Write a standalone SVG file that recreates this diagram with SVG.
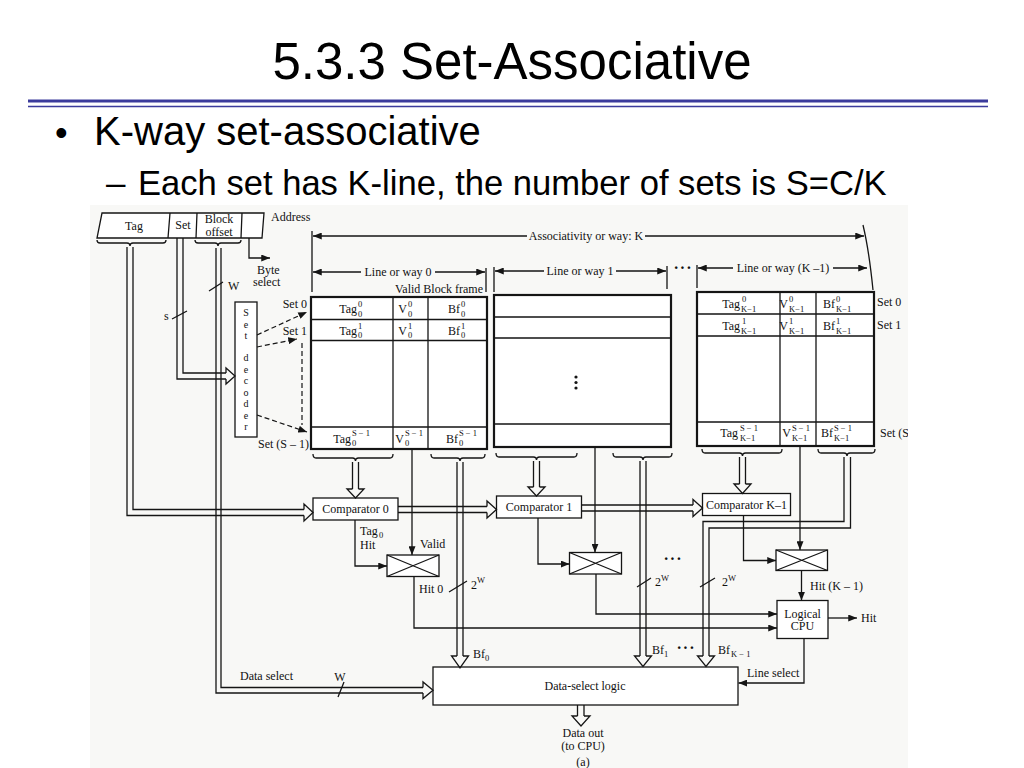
<svg xmlns="http://www.w3.org/2000/svg" width="1024" height="768" viewBox="0 0 1024 768">
<defs>
<style>
.title{font-family:"Liberation Sans",Arial,sans-serif;fill:#000}
.t{font-family:"Liberation Serif","Times New Roman",serif;font-size:12px;fill:#111}
.tm{text-anchor:middle}
.te{text-anchor:end}
.s{font-size:8.5px}
.dec{font-size:10px}
.dots{font-size:16px;font-weight:bold;letter-spacing:1px}
.ln{stroke:#151515;stroke-width:1.3;fill:none}
.bx{stroke:#151515;stroke-width:1.3;fill:#fff}
.dash{stroke:#151515;stroke-width:1.2;fill:none;stroke-dasharray:5 3}
</style>
<marker id="ah" viewBox="0 0 10 8" refX="10" refY="4" markerWidth="9" markerHeight="7" markerUnits="userSpaceOnUse" orient="auto-start-reverse"><path d="M0,0 L10,4 L0,8 z" fill="#151515"/></marker>
<clipPath id="img"><rect x="90" y="205" width="818" height="563"/></clipPath>
</defs>
<rect width="1024" height="768" fill="#fff"/>
<text class="title" x="512" y="79" font-size="51" text-anchor="middle">5.3.3 Set-Associative</text>
<line x1="28" y1="101" x2="988" y2="101" stroke="#3b3b9c" stroke-width="3"/>
<line x1="28" y1="106.5" x2="988" y2="106.5" stroke="#3b3b9c" stroke-width="1.5"/>
<text class="title" x="55" y="145" font-size="36">•</text>
<text class="title" x="94" y="145" font-size="40">K-way set-associative</text>
<text class="title" x="106" y="195" font-size="35">–</text>
<text class="title" x="138" y="195" font-size="34.6">Each set has K-line, the number of sets is S=C/K</text>

<g clip-path="url(#img)">
<rect x="90" y="205" width="818" height="563" fill="#f8f8f6"/>

<g id="address">
<path class="bx" d="M102,213 L264,213 L262,238 L97,238 Z"/>
<path class="ln" d="M170,213 L168,238 M197,213 L196,238 M242,213 L241,238"/>
<text class="t tm" x="134" y="230">Tag</text>
<text class="t tm" x="183" y="229">Set</text>
<text class="t tm" x="219" y="223">Block</text>
<text class="t tm" x="219" y="235.5">offset</text>
<text class="t" x="271" y="220.5">Address</text>
<path class="ln" d="M97,240 Q97,243 100,243 L127,243 Q130,243 130,246 Q130,243 133,243 L163,243 Q166,243 166,240"/>
<path class="ln" d="M195,240 Q195,243 198,243 L215,243 Q218,243 218,246 Q218,243 221,243 L238,243 Q241,243 241,240"/>
</g>

<g id="set-decoder">
<rect class="bx" x="235" y="302" width="22" height="135"/>
<text class="t tm dec" x="246" y="316">S</text>
<text class="t tm dec" x="246" y="327.5">e</text>
<text class="t tm dec" x="246" y="339">t</text>
<text class="t tm dec" x="246" y="361">d</text>
<text class="t tm dec" x="246" y="372.5">e</text>
<text class="t tm dec" x="246" y="384">c</text>
<text class="t tm dec" x="246" y="395.5">o</text>
<text class="t tm dec" x="246" y="407">d</text>
<text class="t tm dec" x="246" y="418.5">e</text>
<text class="t tm dec" x="246" y="430">r</text>
</g>

<g id="way0">
<rect x="311" y="297" width="176" height="152" fill="#fff" stroke="#151515" stroke-width="2.2"/>
<path class="ln" d="M311,319.5 H487 M311,340.5 H487 M311,427 H487 M393,297 V449 M428,297 V449"/>
<text class="t te" x="357" y="313">Tag</text><text class="t s" x="358" y="307">0</text><text class="t s" x="358" y="316.5">0</text>
<text class="t te" x="407" y="313">V</text><text class="t s" x="408" y="307">0</text><text class="t s" x="408" y="316.5">0</text>
<text class="t te" x="460" y="313">Bf</text><text class="t s" x="461" y="307">0</text><text class="t s" x="461" y="316.5">0</text>
<text class="t te" x="357" y="334.5">Tag</text><text class="t s" x="358" y="328.5">1</text><text class="t s" x="358" y="338">0</text>
<text class="t te" x="407" y="334.5">V</text><text class="t s" x="408" y="328.5">1</text><text class="t s" x="408" y="338">0</text>
<text class="t te" x="460" y="334.5">Bf</text><text class="t s" x="461" y="328.5">1</text><text class="t s" x="461" y="338">0</text>
<text class="t te" x="351" y="443">Tag</text><text class="t s" x="352" y="436">S − 1</text><text class="t s" x="352" y="446">0</text>
<text class="t te" x="404" y="443">V</text><text class="t s" x="405" y="436">S − 1</text><text class="t s" x="405" y="446">0</text>
<text class="t te" x="458" y="443">Bf</text><text class="t s" x="459" y="436">S − 1</text><text class="t s" x="459" y="446">0</text>
<text class="t te" x="307" y="308">Set 0</text>
<text class="t te" x="307" y="335">Set 1</text>
<text class="t te" x="309" y="448">Set (S – 1)</text>
<text class="t" x="395" y="293">Valid  Block frame</text>
<path class="ln" d="M313,454 Q313,458 316,458 L352.5,458 Q355.5,458 355.5,461 Q355.5,458 358.5,458 L390,458 Q393,458 393,454"/>
<path class="ln" d="M431,454 Q431,458 434,458 L457,458 Q460,458 460,461 Q460,458 463,458 L482,458 Q485,458 485,454"/>
</g>

<g id="way1">
<rect x="494" y="295" width="177" height="152" fill="#fff" stroke="#151515" stroke-width="2.2"/>
<path class="ln" d="M494,317 H671 M494,338 H671 M494,424 H671"/>
<circle cx="576" cy="377" r="1.6" fill="#151515"/>
<circle cx="576" cy="382.5" r="1.6" fill="#151515"/>
<circle cx="576" cy="388" r="1.6" fill="#151515"/>
<path class="ln" d="M496,453 Q496,457 499,457 L533.5,457 Q536.5,457 536.5,460 Q536.5,457 539.5,457 L574,457 Q577,457 577,453"/>
<path class="ln" d="M613,453 Q613,457 616,457 L640,457 Q643,457 643,460 Q643,457 646,457 L669,457 Q672,457 672,453"/>
</g>

<g id="wayK-1">
<rect x="697" y="292" width="177" height="154" fill="#fff" stroke="#151515" stroke-width="2.2"/>
<path class="ln" d="M697,314 H874 M697,336 H874 M697,422 H874 M780,292 V446 M816,292 V446"/>
<text class="t te" x="740" y="308">Tag</text><text class="t s" x="742" y="302">0</text><text class="t s" x="741" y="311.5">K−1</text>
<text class="t te" x="788" y="308">V</text><text class="t s" x="789" y="302">0</text><text class="t s" x="789" y="311.5">K−1</text>
<text class="t te" x="835" y="308">Bf</text><text class="t s" x="836" y="302">0</text><text class="t s" x="836" y="311.5">K−1</text>
<text class="t te" x="740" y="330">Tag</text><text class="t s" x="742" y="324">1</text><text class="t s" x="741" y="333.5">K−1</text>
<text class="t te" x="788" y="330">V</text><text class="t s" x="789" y="324">1</text><text class="t s" x="789" y="333.5">K−1</text>
<text class="t te" x="835" y="330">Bf</text><text class="t s" x="836" y="324">1</text><text class="t s" x="836" y="333.5">K−1</text>
<text class="t te" x="738" y="437">Tag</text><text class="t s" x="740" y="430.5">S − 1</text><text class="t s" x="740" y="440.5">K−1</text>
<text class="t te" x="791" y="437">V</text><text class="t s" x="792" y="430.5">S − 1</text><text class="t s" x="792" y="440.5">K−1</text>
<text class="t te" x="833" y="437">Bf</text><text class="t s" x="834" y="430.5">S − 1</text><text class="t s" x="834" y="440.5">K−1</text>
<text class="t" x="877" y="306">Set 0</text>
<text class="t" x="877" y="329">Set 1</text>
<text class="t" x="880" y="437">Set (S</text>
<path class="ln" d="M702,449 Q702,453 705,453 L739.5,453 Q742.5,453 742.5,456 Q742.5,453 745.5,453 L779,453 Q782,453 782,449"/>
<path class="ln" d="M818,449 Q818,453 821,453 L844,453 Q847,453 847,456 Q847,453 850,453 L872,453 Q875,453 875,449"/>
</g>

<g id="comparator0">
<rect class="bx" x="313" y="498" width="85" height="22"/>
<text class="t tm" x="355.5" y="513">Comparator 0</text>
</g>
<g id="comparator1">
<rect class="bx" x="496.5" y="496" width="85" height="22"/>
<text class="t tm" x="539" y="511">Comparator 1</text>
</g>
<g id="comparatorK-1">
<rect class="bx" x="702.5" y="493.5" width="88" height="22"/>
<text class="t tm" x="746.5" y="508.5">Comparator K–1</text>
</g>
<g id="and0">
<rect class="bx" x="387" y="555" width="52" height="21.5"/>
<path class="ln" d="M387,555 L439,576.5 M387,576.5 L439,555"/>
</g>
<g id="and1">
<rect class="bx" x="569.5" y="552.5" width="52" height="21.5"/>
<path class="ln" d="M569.5,552.5 L621.5,574 M569.5,574 L621.5,552.5"/>
</g>
<g id="andK-1">
<rect class="bx" x="776" y="550" width="51.5" height="20.5"/>
<path class="ln" d="M776,550 L827.5,570.5 M776,570.5 L827.5,550"/>
</g>
<g id="logical-cpu">
<rect class="bx" x="777" y="600.5" width="51" height="38"/>
<text class="t tm" x="802.5" y="617.5">Logical</text>
<text class="t tm" x="802.5" y="630">CPU</text>
</g>
<g id="data-select-logic">
<rect class="bx" x="433" y="667" width="305" height="38"/>
<text class="t tm" x="585" y="690">Data-select logic</text>
</g>

<g id="connectors">
<path class="ln" d="M127,247 V515.5 H304 M133,247 V509.5 H304"/>
<path class="ln" d="M304,509.5 V504 L313,512.5 L304,521 V515.5"/>
<path class="ln" d="M177,238 V379 H226 M183,238 V373 H226"/>
<path class="ln" d="M226,373 V368 L235,376 L226,384 V379"/>
<path class="ln" d="M216,248 V693 H423 M221,248 V687.5 H423"/>
<path class="ln" d="M423,687.5 V682 L433,690.25 L423,698.5 V693"/>
<path class="ln" d="M249,238 V258 H270" marker-end="url(#ah)"/>
<path class="dash" d="M257,335 L307,312" marker-end="url(#ah)"/>
<path class="dash" d="M257,347 L297,339" marker-end="url(#ah)"/>
<path class="dash" d="M257,415 L307,432" marker-end="url(#ah)"/>
<path class="dash" d="M302,343 V425"/>
<path class="ln" d="M172,319 L187,311 M209,291 L223,282 M338,697 L344,682 M449,592 L467,581 M637,587 L651,578 M700,587 L715,578"/>

<path class="ln" d="M312,231 V292 M486,268 V292 M494,267 V292 M667,266 V289 M697,265 V288 M863,225 Q869,250 873,290"/>
<path class="ln" d="M313,236 H527" marker-start="url(#ah)"/>
<path class="ln" d="M645,236 H864" marker-end="url(#ah)"/>
<path class="ln" d="M313,272 H361" marker-start="url(#ah)"/>
<path class="ln" d="M435,272 H485" marker-end="url(#ah)"/>
<path class="ln" d="M495,271 H544" marker-start="url(#ah)"/>
<path class="ln" d="M616,271 H666" marker-end="url(#ah)"/>
<path class="ln" d="M698,268 H733" marker-start="url(#ah)"/>
<path class="ln" d="M833,268 H867" marker-end="url(#ah)"/>

<path class="ln" d="M352.5,462 V489 M358.5,462 V489"/>
<path class="ln" d="M352.5,489 H347 L355.5,498 L364,489 H358.5"/>
<path class="ln" d="M412,449 V555" marker-end="url(#ah)"/>
<path class="ln" d="M457,462 V656 M463,462 V656"/>
<path class="ln" d="M457,656 H451.5 L460,668 L468.5,656 H463"/>
<path class="ln" d="M398,506.5 H487 M398,512.5 H487"/>
<path class="ln" d="M487,506.5 V501 L496.5,509.5 L487,518 V512.5"/>
<path class="ln" d="M355,520 V566 H387" marker-end="url(#ah)"/>
<path class="ln" d="M414,576.5 V628 H777" marker-end="url(#ah)"/>

<path class="ln" d="M533.5,461 V487 M539.5,461 V487"/>
<path class="ln" d="M533.5,487 H528 L536.5,496 L545,487 H539.5"/>
<path class="ln" d="M595,447 V552.5" marker-end="url(#ah)"/>
<path class="ln" d="M640,461 V656 M646,461 V656"/>
<path class="ln" d="M640,656 H634.5 L643,666.5 L651.5,656 H646"/>
<path class="ln" d="M581.5,505 H693 M581.5,511 H693"/>
<path class="ln" d="M693,505 V499.5 L702.5,508 L693,516.5 V511"/>
<path class="ln" d="M538,518 V564 H569.5" marker-end="url(#ah)"/>
<path class="ln" d="M596,574 V614 H777" marker-end="url(#ah)"/>

<path class="ln" d="M739.5,457 V484 M745.5,457 V484"/>
<path class="ln" d="M739.5,484 H734 L742.5,493.5 L751,484 H745.5"/>
<path class="ln" d="M800,446 V550" marker-end="url(#ah)"/>
<path class="ln" d="M844,457 V521.5 H703 V656 M850.5,457 V528 H709 V656"/>
<path class="ln" d="M703,656 H697.5 L706,666.5 L714.5,656 H709"/>
<path class="ln" d="M743.5,515.5 V560.5 H776" marker-end="url(#ah)"/>
<path class="ln" d="M801.5,570.5 V600.5" marker-end="url(#ah)"/>
<path class="ln" d="M828,618 H857" marker-end="url(#ah)"/>
<path class="ln" d="M804,638.5 V683 H738.5" marker-end="url(#ah)"/>
<path class="ln" d="M577.5,705 V716 M584,705 V716"/>
<path class="ln" d="M577.5,716 H572 L581,726 L590,716 H584"/>
</g>

<g id="labels">
<text class="t" x="257" y="274">Byte</text>
<text class="t" x="253" y="286">select</text>
<text class="t" x="228" y="290">W</text>
<text class="t" x="164" y="320">s</text>
<text class="t tm" x="586" y="240">Associativity or way: K</text>
<text class="t tm" x="398" y="276">Line or way 0</text>
<text class="t tm" x="580" y="275">Line or way 1</text>
<text class="t tm dots" x="683" y="273">···</text>
<text class="t tm" x="783" y="272">Line or way (K –1)</text>
<text class="t" x="360" y="535">Tag</text><text class="t s" x="379" y="538">0</text>
<text class="t" x="360" y="549">Hit</text>
<text class="t" x="420" y="548">Valid</text>
<text class="t" x="419" y="593">Hit 0</text>
<text class="t" x="471" y="588.5">2</text><text class="t s" x="477" y="583">W</text>
<text class="t" x="655" y="586">2</text><text class="t s" x="661" y="581">W</text>
<text class="t" x="722" y="586">2</text><text class="t s" x="728" y="581">W</text>
<text class="t tm dots" x="673" y="564">···</text>
<text class="t" x="810" y="590">Hit (K – 1)</text>
<text class="t" x="861" y="622">Hit</text>
<text class="t" x="747" y="677">Line select</text>
<text class="t" x="473" y="658">Bf</text><text class="t s" x="485" y="661">0</text>
<text class="t" x="652" y="654">Bf</text><text class="t s" x="664" y="657">1</text>
<text class="t tm dots" x="686" y="653">···</text>
<text class="t" x="718" y="654">Bf</text><text class="t s" x="731" y="657">K − 1</text>
<text class="t tm" x="340" y="681">W</text>
<text class="t" x="240" y="680">Data select</text>
<text class="t tm" x="583" y="737">Data out</text>
<text class="t tm" x="583" y="750">(to CPU)</text>
<text class="t tm" x="583" y="766">(a)</text>
</g>
</g>
</svg>
